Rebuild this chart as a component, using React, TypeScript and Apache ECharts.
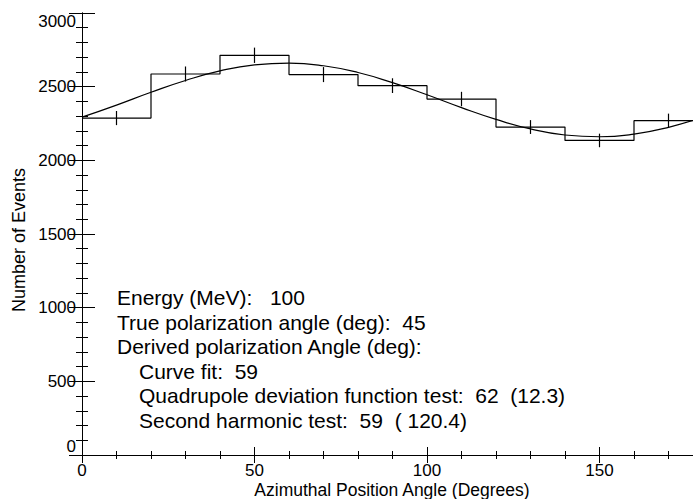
import React, { useEffect, useRef } from "react";
import * as echarts from "echarts";

const binCenters = [10, 30, 50, 70, 90, 110, 130, 150, 170];
const binCounts = [2287, 2586, 2713, 2582, 2507, 2416, 2226, 2135, 2269];
const binErrors = [48, 51, 52, 51, 50, 49, 47, 46, 48];
const binHalfWidth = 10;

const fitAngles = [0, 10, 20, 30, 40, 50, 60, 70, 80, 90, 100, 110, 120, 130, 140, 150, 160, 170, 180];
const fitValues = [2293, 2375, 2462, 2542, 2607, 2648, 2660, 2642, 2596, 2527, 2445, 2358, 2278, 2213, 2172, 2160, 2178, 2224, 2293];

const annotationLines = [
  { text: "Energy (MeV):   100", indent: 0 },
  { text: "True polarization angle (deg):  45", indent: 0 },
  { text: "Derived polarization Angle (deg):", indent: 0 },
  { text: "Curve fit:  59", indent: 1 },
  { text: "Quadrupole deviation function test:  62  (12.3)", indent: 1 },
  { text: "Second harmonic test:  59  ( 120.4)", indent: 1 },
];

const xTitle = "Azimuthal Position Angle (Degrees)";
const yTitle = "Number of Events";

const FONT = "'Liberation Sans', Arial, Helvetica, sans-serif";

export default function App() {
  const ref = useRef<HTMLDivElement>(null);

  useEffect(() => {
    if (!ref.current) return;
    const chart = echarts.init(ref.current, null, { renderer: "svg" });

    const stairs: number[][] = binCenters.map((c, i) => [c - binHalfWidth, binCounts[i]]);
    stairs.push([binCenters[binCenters.length - 1] + binHalfWidth, binCounts[binCounts.length - 1]]);

    const errData = binCenters.map((c, i) => [c, binCounts[i], binErrors[i]]);
    const fitData = fitAngles.map((a, i) => [a, fitValues[i]]);

    const axisLine = { show: true, lineStyle: { color: "#000", width: 1 } };
    const fmt = (v: number) => String(v);

    const option: any = {
      animation: false,
      backgroundColor: "#fff",
      grid: { left: 82, right: 10, top: 13, bottom: 44, containLabel: false },
      xAxis: [
        {
          type: "value",
          min: 0,
          max: 180,
          interval: 50,
          position: "bottom",
          axisLine,
          axisTick: { show: true, inside: true, length: 8, lineStyle: { color: "#000" } },
          minorTick: { show: true, splitNumber: 5, length: 4, lineStyle: { color: "#000" } },
          splitLine: { show: false },
          minorSplitLine: { show: false },
          axisLabel: { color: "#000", fontSize: 17, fontFamily: FONT, margin: 7, formatter: fmt, showMaxLabel: false },
        },
        {
          type: "value",
          min: 0,
          max: 180,
          interval: 50,
          position: "top",
          axisLine,
          axisTick: { show: true, inside: true, length: 8, lineStyle: { color: "#000" } },
          minorTick: { show: true, splitNumber: 5, length: 4, lineStyle: { color: "#000" } },
          splitLine: { show: false },
          axisLabel: { show: false },
        },
      ],
      yAxis: [
        {
          type: "value",
          min: 0,
          max: 3000,
          interval: 500,
          position: "left",
          axisLine,
          axisTick: { show: true, inside: true, length: 13, lineStyle: { color: "#000" } },
          minorTick: { show: true, splitNumber: 5, length: 6, lineStyle: { color: "#000" } },
          splitLine: { show: false },
          axisLabel: {
            color: "#000",
            fontSize: 17,
            fontFamily: FONT,
            margin: 6,
            formatter: fmt,
            verticalAlignMinLabel: "bottom",
            verticalAlignMaxLabel: "top",
          },
        },
        {
          type: "value",
          min: 0,
          max: 3000,
          interval: 500,
          position: "right",
          axisLine,
          axisTick: { show: true, inside: true, length: 13, lineStyle: { color: "#000" } },
          minorTick: { show: true, splitNumber: 5, length: 6, lineStyle: { color: "#000" } },
          splitLine: { show: false },
          axisLabel: { show: false },
        },
      ],
      series: [
        {
          type: "line",
          data: stairs,
          step: "end",
          symbol: "none",
          lineStyle: { color: "#000", width: 1.2 },
          xAxisIndex: 0,
          yAxisIndex: 0,
        },
        {
          type: "custom",
          data: errData,
          xAxisIndex: 0,
          yAxisIndex: 0,
          renderItem: (params: any, api: any) => {
            const x = api.value(0);
            const y = api.value(1);
            const e = api.value(2);
            const p1 = api.coord([x, y - e]);
            const p2 = api.coord([x, y + e]);
            return {
              type: "line",
              shape: { x1: p1[0], y1: p1[1], x2: p2[0], y2: p2[1] },
              style: { stroke: "#000", lineWidth: 1.2 },
            };
          },
        },
        {
          type: "line",
          data: fitData,
          smooth: true,
          symbol: "none",
          lineStyle: { color: "#000", width: 1.2 },
          xAxisIndex: 0,
          yAxisIndex: 0,
        },
      ],
      graphic: [
        ...annotationLines.map((l, i) => ({
          type: "text",
          left: l.indent ? 139 : 117,
          top: 287 + i * 24.6,
          style: {
            text: l.text,
            fontSize: 21,
            fontFamily: FONT,
            fill: "#000",
          },
        })),
        {
          type: "text",
          x: 392,
          y: 490,
          style: {
            text: xTitle,
            fontSize: 17.5,
            fontFamily: FONT,
            fill: "#000",
            align: "center",
            verticalAlign: "middle",
          },
        },
        {
          type: "text",
          x: 19,
          y: 240,
          rotation: Math.PI / 2,
          style: {
            text: yTitle,
            fontSize: 18,
            fontFamily: FONT,
            fill: "#000",
            align: "center",
            verticalAlign: "middle",
          },
        },
      ],
    };

    chart.setOption(option);
    return () => chart.dispose();
  }, []);

  return (
    <div style={{ position: "fixed", left: 0, top: 0, width: 693, height: 499, overflow: "hidden", background: "#fff" }}>
      <div ref={ref} style={{ width: 713, height: 499 }} />
    </div>
  );
}
